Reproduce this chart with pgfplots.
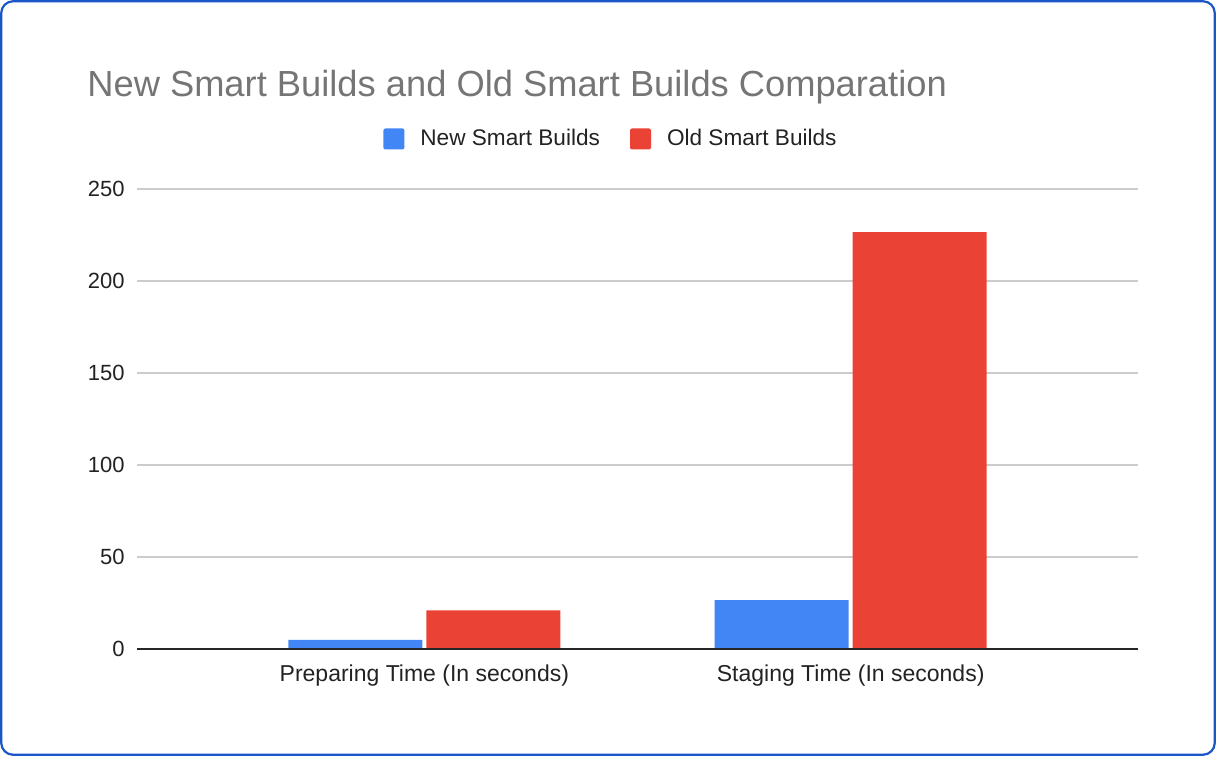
\documentclass[border=0pt]{standalone}
\usepackage{pgfplots}
\pgfplotsset{compat=1.18}
\usepackage{fontspec}
\setmainfont{Liberation Sans}

\definecolor{gblue}{HTML}{4285F4}
\definecolor{gred}{HTML}{EA4335}
\definecolor{frame}{HTML}{1A56C6}
\definecolor{titlegray}{HTML}{757575}
\definecolor{labelgray}{HTML}{222222}
\definecolor{gridgray}{HTML}{CCCCCC}

\begin{document}
\begin{tikzpicture}
  % 1 px of the reference = 0.5pt
  \path[use as bounding box] (0,0) rectangle (608pt,378pt);
  \draw[frame, line width=1.1pt, rounded corners=6pt] (0.6pt,0.6pt) rectangle (607.4pt,377.4pt);

  \begin{axis}[
    at={(68.5pt,53.5pt)}, anchor=south west,
    scale only axis,
    width=500.5pt, height=230pt,
    ybar=2pt, bar width=67pt,
    xmin=-0.674, xmax=1.674,
    ymin=0, ymax=250,
    xtick=data,
    xticklabels={Preparing Time (In seconds), Staging Time (In seconds)},
    ytick={0,50,100,150,200,250},
    major tick length=0pt,
    axis line style={draw=none},
    ymajorgrids,
    grid style={gridgray, line width=0.6pt},
    /pgf/number format/assume math mode=true,
    tick label style={font=\fontsize{11}{13}\selectfont, text=labelgray, inner sep=0pt},
    yticklabel style={xshift=-6pt},
    xticklabel style={yshift=-7.5pt, font=\fontsize{11.5}{13}\selectfont},
    title={New Smart Builds and Old Smart Builds Comparation},
    title style={at={(axis description cs:-0.04995,1.1755)}, anchor=base west,
      font=\fontsize{18.15}{21}\selectfont, text=titlegray, inner sep=0pt},
    legend columns=2,
    legend style={at={(axis description cs:0.4745,1.1087)}, anchor=center,
      draw=none, fill=none, font=\fontsize{11.3}{13}\selectfont, text=labelgray,
      /tikz/every odd column/.append style={column sep=6pt},
      /tikz/every even column/.append style={column sep=13pt}},
    legend cell align=left,
  ]
    \addplot[fill=gblue, draw=none,
      legend image code/.code={\fill[gblue, rounded corners=1pt] (0pt,-5.25pt) rectangle (10.5pt,5.25pt);}]
      coordinates {(0,5) (1,26.5)};
    \addplot[fill=gred, draw=none,
      legend image code/.code={\fill[gred, rounded corners=1pt] (0pt,-5.25pt) rectangle (10.5pt,5.25pt);}]
      coordinates {(0,21) (1,226.5)};
    \legend{New Smart Builds, Old Smart Builds}
    \draw[black!85, line width=1pt] (axis cs:-0.674,0) -- (axis cs:1.674,0);
  \end{axis}
\end{tikzpicture}
\end{document}
